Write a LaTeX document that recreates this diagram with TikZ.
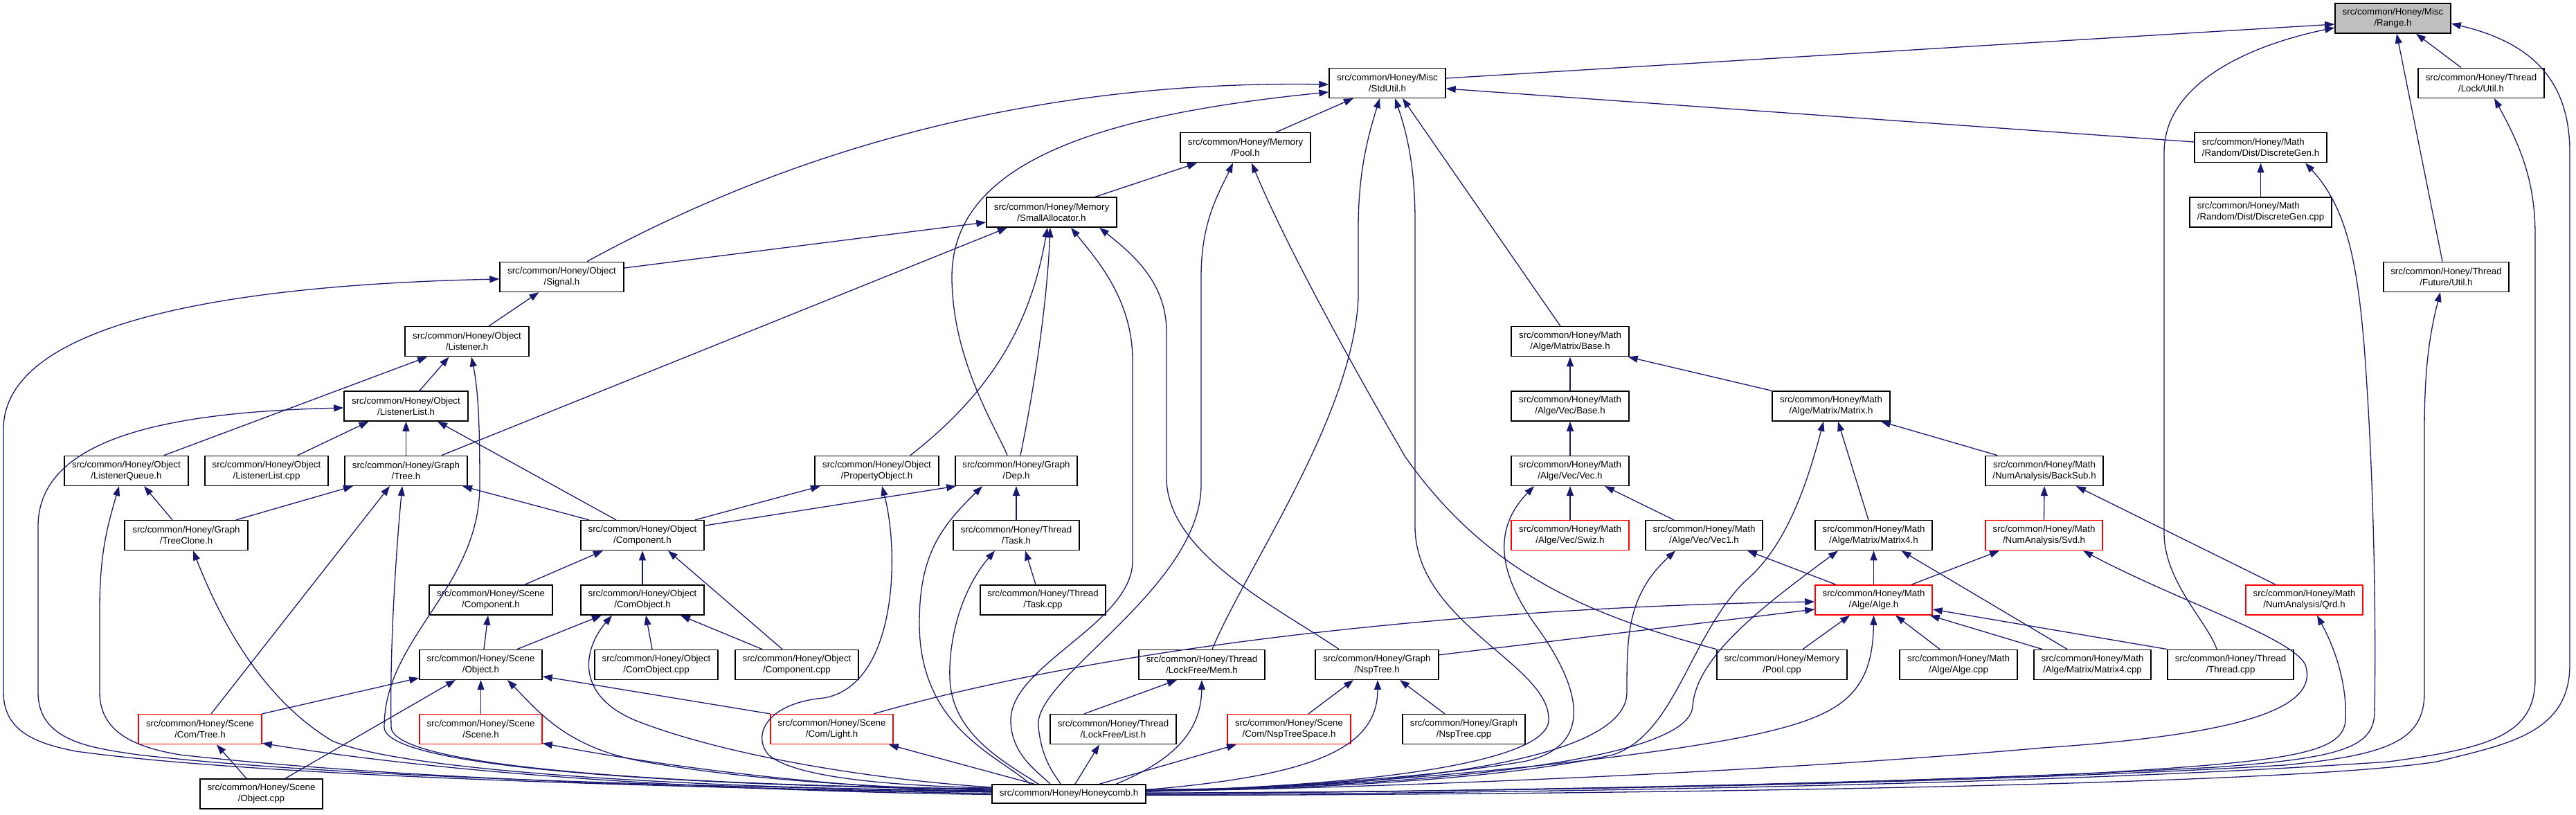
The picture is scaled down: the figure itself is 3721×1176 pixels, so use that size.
\documentclass[tikz,border=0pt]{standalone}
\usepackage{fontspec}
\setmainfont{Liberation Sans}
\usetikzlibrary{arrows.meta}
\definecolor{edgecol}{HTML}{191970}
\definecolor{rangegray}{HTML}{BFBFBF}
\definecolor{trunc}{HTML}{FF0000}
\tikzset{
 box/.style={draw=black, line width=1.5pt, fill=white, minimum height=43pt, inner sep=0pt, align=center, font=\fontsize{13.3}{16}\selectfont},
 redbox/.style={box, draw=trunc},
 e/.style={draw=edgecol, line width=1.3pt, arrows={Triangle[length=14pt,width=10pt]-}},
}
\begin{document}
\begin{tikzpicture}[x=1pt,y=-1pt]
\useasboundingbox (0,0) rectangle (3721,1176);
% nodes
\node[box,fill=rangegray,minimum width=167pt] (range) at (3456.5,26.5) {src/common/Honey/Misc\\/Range.h};
\node[box,minimum width=168pt] (stdutil) at (2004,119.8) {src/common/Honey/Misc\\/StdUtil.h};
\node[box,minimum width=182pt] (lockutil) at (3584,119.8) {src/common/Honey/Thread\\/Lock/Util.h};
\node[box,minimum width=188pt] (pool) at (1799,213.2) {src/common/Honey/Memory\\/Pool.h};
\node[box,align=left,minimum width=191pt] (discgen) at (3265.5,213.2) {src/common/Honey/Math\\/Random/Dist/DiscreteGen.h};
\node[box,minimum width=188pt] (smallalloc) at (1519,306.5) {src/common/Honey/Memory\\/SmallAllocator.h};
\node[box,align=left,minimum width=205pt] (discgencpp) at (3265.5,306.5) {src/common/Honey/Math\\/Random/Dist/DiscreteGen.cpp};
\node[box,minimum width=179pt] (signal) at (811.5,399.8) {src/common/Honey/Object\\/Signal.h};
\node[box,minimum width=181pt] (futureutil) at (3533.5,399.8) {src/common/Honey/Thread\\/Future/Util.h};
\node[box,minimum width=179pt] (listener) at (674.5,493.2) {src/common/Honey/Object\\/Listener.h};
\node[box,minimum width=170pt] (mbase) at (2268,493.2) {src/common/Honey/Math\\/Alge/Matrix/Base.h};
\node[box,minimum width=179pt] (listenerlist) at (586.5,586.5) {src/common/Honey/Object\\/ListenerList.h};
\node[box,minimum width=170pt] (vbase) at (2268,586.5) {src/common/Honey/Math\\/Alge/Vec/Base.h};
\node[box,minimum width=170pt] (matrix) at (2645,586.5) {src/common/Honey/Math\\/Alge/Matrix/Matrix.h};
\node[box,minimum width=179pt] (listenerqueue) at (182.5,679.8) {src/common/Honey/Object\\/ListenerQueue.h};
\node[box,minimum width=178pt] (listenerlistcpp) at (385,679.8) {src/common/Honey/Object\\/ListenerList.cpp};
\node[box,minimum width=177pt] (tree) at (586.5,679.8) {src/common/Honey/Graph\\/Tree.h};
\node[box,minimum width=179pt] (propobj) at (1266.5,679.8) {src/common/Honey/Object\\/PropertyObject.h};
\node[box,minimum width=176pt] (dep) at (1468,679.8) {src/common/Honey/Graph\\/Dep.h};
\node[box,minimum width=170pt] (vec) at (2268,679.8) {src/common/Honey/Math\\/Alge/Vec/Vec.h};
\node[box,minimum width=170pt] (backsub) at (2953,679.8) {src/common/Honey/Math\\/NumAnalysis/BackSub.h};
\node[box,minimum width=178pt] (treeclone) at (269,773.1) {src/common/Honey/Graph\\/TreeClone.h};
\node[box,minimum width=178pt] (component) at (928,773.1) {src/common/Honey/Object\\/Component.h};
\node[box,minimum width=182pt] (task) at (1468,773.1) {src/common/Honey/Thread\\/Task.h};
\node[redbox,minimum width=170pt] (swiz) at (2268,773.1) {src/common/Honey/Math\\/Alge/Vec/Swiz.h};
\node[box,minimum width=169pt] (vec1) at (2461.5,773.1) {src/common/Honey/Math\\/Alge/Vec/Vec1.h};
\node[box,minimum width=169pt] (matrix4) at (2706.5,773.1) {src/common/Honey/Math\\/Alge/Matrix/Matrix4.h};
\node[redbox,minimum width=169pt] (svd) at (2952.5,773.1) {src/common/Honey/Math\\/NumAnalysis/Svd.h};
\node[box,minimum width=178pt] (scenecomponent) at (709,866.5) {src/common/Honey/Scene\\/Component.h};
\node[box,minimum width=178pt] (comobject) at (928,866.5) {src/common/Honey/Object\\/ComObject.h};
\node[box,minimum width=181pt] (taskcpp) at (1506.5,866.5) {src/common/Honey/Thread\\/Task.cpp};
\node[redbox,minimum width=169pt] (alge) at (2706.5,866.5) {src/common/Honey/Math\\/Alge/Alge.h};
\node[redbox,minimum width=169pt] (qrd) at (3328.5,866.5) {src/common/Honey/Math\\/NumAnalysis/Qrd.h};
\node[box,minimum width=177pt] (sceneobject) at (694.5,959.8) {src/common/Honey/Scene\\/Object.h};
\node[box,minimum width=178pt] (comobjectcpp) at (948,959.8) {src/common/Honey/Object\\/ComObject.cpp};
\node[box,minimum width=178pt] (componentcpp) at (1151,959.8) {src/common/Honey/Object\\/Component.cpp};
\node[box,minimum width=182pt] (mem) at (1736,959.8) {src/common/Honey/Thread\\/LockFree/Mem.h};
\node[box,minimum width=178pt] (nsptree) at (1989,959.8) {src/common/Honey/Graph\\/NspTree.h};
\node[box,minimum width=188pt] (poolcpp) at (2574,959.8) {src/common/Honey/Memory\\/Pool.cpp};
\node[box,minimum width=170pt] (algecpp) at (2829,959.8) {src/common/Honey/Math\\/Alge/Alge.cpp};
\node[box,minimum width=169pt] (matrix4cpp) at (3022.5,959.8) {src/common/Honey/Math\\/Alge/Matrix/Matrix4.cpp};
\node[box,minimum width=182pt] (threadcpp) at (3222,959.8) {src/common/Honey/Thread\\/Thread.cpp};
\node[redbox,minimum width=178pt] (comtree) at (289,1053.1) {src/common/Honey/Scene\\/Com/Tree.h};
\node[redbox,minimum width=177pt] (scene) at (694.5,1053.1) {src/common/Honey/Scene\\/Scene.h};
\node[redbox,minimum width=177pt] (light) at (1201.5,1053.1) {src/common/Honey/Scene\\/Com/Light.h};
\node[box,minimum width=182pt] (list) at (1608,1053.1) {src/common/Honey/Thread\\/LockFree/List.h};
\node[redbox,minimum width=178pt] (nsptreespace) at (1862,1053.1) {src/common/Honey/Scene\\/Com/NspTreeSpace.h};
\node[box,minimum width=177pt] (nsptreecpp) at (2114.5,1053.1) {src/common/Honey/Graph\\/NspTree.cpp};
\node[box,minimum width=177pt] (objectcpp) at (377.5,1146.5) {src/common/Honey/Scene\\/Object.cpp};
\node[box,minimum width=222pt,minimum height=27pt] (honeycomb) at (1544,1146.5) {src/common/Honey/Honeycomb.h};
% Range
\draw[e] ([yshift=-8.5pt]range.west) -- ([yshift=6.8pt]stdutil.east);
\draw[e] ([yshift=-13.5pt]range.west) .. controls (3250,65) and (3126,120) .. (3126,220) -- (3126,770) .. controls (3126,840) and (3190,900) .. ([xshift=-20pt]threadcpp.north);
\draw[e] ([xshift=5.5pt]range.south) -- ([xshift=-5.5pt]futureutil.north);
\draw[e] ([xshift=33.5pt]range.south) -- ([xshift=-29pt]lockutil.north);
\draw[e] ([yshift=-7.5pt]range.east) .. controls (3650,60) and (3712,110) .. (3712,220) -- (3712,960) .. controls (3712,1060) and (3620,1075) .. (3520,1100) .. controls (3300,1135) and (2300,1148) .. ([yshift=-2pt]honeycomb.east);
% StdUtil
\draw[e] ([xshift=-49pt]stdutil.south) -- ([xshift=44pt]pool.north);
\draw[e] ([yshift=-2.2pt]stdutil.west) .. controls (1450,115) and (1100,240) .. ([xshift=36.5pt]signal.north);
\draw[e] ([yshift=-13.2pt]stdutil.west) .. controls (1600,165) and (1375,230) .. (1375,400) .. controls (1375,520) and (1440,620) .. ([xshift=-13pt]dep.north);
\draw[e] ([xshift=-11pt]stdutil.south) .. controls (1975,200) and (1962,250) .. (1962,330) -- (1962,430) .. controls (1955,600) and (1800,820) .. ([xshift=15pt]mem.north);
\draw[e] ([xshift=11pt]stdutil.south) .. controls (2035,200) and (2044,250) .. (2044,320) -- (2044,760) .. controls (2044,900) and (2240,960) .. (2237,1040) .. controls (2235,1110) and (1900,1138) .. ([yshift=4.5pt]honeycomb.east);
\draw[e] ([xshift=22pt]stdutil.south) -- ([xshift=-14pt]mbase.north);
\draw[e] ([yshift=-8.2pt]stdutil.east) -- ([yshift=8.2pt]discgen.west);
% Pool
\draw[e] ([xshift=-70pt]pool.south) -- ([xshift=63pt]smallalloc.north);
\draw[e] ([xshift=-18pt]pool.south) .. controls (1760,280) and (1735,320) .. (1735,400) -- (1735,700) .. controls (1735,850) and (1490,980) .. (1500,1050) .. controls (1505,1100) and (1525,1120) .. ([xshift=-12pt]honeycomb.north);
\draw[e] ([xshift=9pt]pool.south) .. controls (1860,360) and (1960,540) .. (2030,660) .. controls (2150,830) and (2300,890) .. (poolcpp.north west);
% SmallAllocator
\draw[e] ([yshift=-14.5pt]smallalloc.west) -- ([yshift=12.8pt]signal.east);
\draw[e] ([xshift=-64pt]smallalloc.south) -- ([xshift=51.5pt]tree.north);
\draw[e] ([xshift=-6pt]smallalloc.south) .. controls (1490,460) and (1440,560) .. ([xshift=48.5pt]propobj.north);
\draw[e] ([xshift=-2pt]smallalloc.south) .. controls (1512,450) and (1490,580) .. ([xshift=6pt]dep.north);
\draw[e] ([xshift=28pt]smallalloc.south) .. controls (1580,370) and (1636,430) .. (1636,520) -- (1636,810) .. controls (1636,900) and (1460,960) .. (1460,1040) .. controls (1460,1090) and (1500,1115) .. ([xshift=-27pt]honeycomb.north);
\draw[e] ([xshift=69pt]smallalloc.south) .. controls (1640,370) and (1685,410) .. (1685,480) -- (1685,690) .. controls (1685,800) and (1850,880) .. ([xshift=-55pt]nsptree.north);
% Signal
\draw[e] ([xshift=-33pt]signal.south) -- ([xshift=31.5pt]listener.north);
\draw[e] ([yshift=-3.2pt]signal.west) .. controls (400,410) and (5,450) .. (5,620) -- (5,1000) .. controls (5,1060) and (60,1075) .. (110,1085) .. controls (400,1125) and (1100,1140) .. ([yshift=2.5pt]honeycomb.west);
% Listener
\draw[e] ([xshift=-26pt]listener.south) -- ([xshift=19.5pt]listenerlist.north);
\draw[e] ([xshift=-57.5pt]listener.south) -- ([xshift=54.5pt]listenerqueue.north);
\draw[e] ([xshift=6.5pt]listener.south) .. controls (690,560) and (693,600) .. (693,700) .. controls (693,850) and (555,920) .. (555,1050) .. controls (555,1110) and (1000,1135) .. ([yshift=6.5pt]honeycomb.west);
% ListenerList
\draw[e] ([xshift=-54pt]listenerlist.south) -- ([xshift=45pt]listenerlistcpp.north);
\draw[e] (listenerlist.south) -- (tree.north);
\draw[e] ([xshift=45.5pt]listenerlist.south) -- ([xshift=-38pt]component.north);
\draw[e] ([yshift=-2.5pt]listenerlist.west) .. controls (250,595) and (55,630) .. (55,760) -- (55,1000) .. controls (55,1070) and (130,1080) .. (200,1090) .. controls (500,1125) and (1100,1138) .. ([yshift=4.5pt]honeycomb.west);
% ListenerQueue
\draw[e] ([xshift=25.5pt]listenerqueue.south) -- ([xshift=-20pt]treeclone.north);
\draw[e] ([xshift=-10.5pt]listenerqueue.south) .. controls (155,760) and (144,800) .. (144,880) -- (144,1000) .. controls (144,1060) and (200,1080) .. (260,1090) .. controls (600,1128) and (1100,1140) .. ([yshift=0.5pt]honeycomb.west);
% Tree
\draw[e] ([xshift=-76.5pt]tree.south) -- ([xshift=72pt]treeclone.north);
\draw[e] ([xshift=-23.5pt]tree.south) -- ([xshift=16pt]comtree.north);
\draw[e] ([xshift=-5.5pt]tree.south) .. controls (570,820) and (563,950) .. (565,1050) .. controls (567,1110) and (1000,1135) .. ([yshift=7.5pt]honeycomb.west);
\draw[e] ([xshift=81.5pt]tree.south) -- ([xshift=-77pt]component.north);
% TreeClone
\draw[e] ([xshift=10pt]treeclone.south) .. controls (320,900) and (380,1010) .. (480,1070) .. controls (600,1120) and (1100,1140) .. ([yshift=4pt]honeycomb.west);
% Component
\draw[e] ([xshift=-57pt]component.south) -- ([xshift=49pt]scenecomponent.north);
\draw[e] (component.south) -- (comobject.north);
\draw[e] ([xshift=37pt]component.south) -- ([xshift=-21pt]componentcpp.north);
\draw[e] ([xshift=-81.5pt]propobj.south) -- ([xshift=76pt]component.north);
\draw[e] ([xshift=2pt]dep.south west) -- ([yshift=14pt]component.east);
% PropertyObject
\draw[e] ([xshift=7.5pt]propobj.south) .. controls (1300,800) and (1295,990) .. (1190,1008) .. controls (1110,1015) and (1085,1060) .. (1110,1090) .. controls (1150,1125) and (1300,1135) .. ([yshift=8.5pt]honeycomb.west);
% Dep
\draw[e] (dep.south) -- (task.north);
\draw[e] ([xshift=-49pt]dep.south) .. controls (1360,760) and (1328,800) .. (1328,900) .. controls (1328,1050) and (1440,1090) .. ([xshift=-56pt]honeycomb.north);
% Task
\draw[e] ([xshift=13pt]task.south) -- ([xshift=-10.5pt]taskcpp.north);
\draw[e] ([xshift=-31pt]task.south) .. controls (1390,850) and (1370,920) .. (1372,980) .. controls (1375,1060) and (1450,1100) .. ([xshift=-44pt]honeycomb.north);
% Scene component / ComObject
\draw[e] ([xshift=-4pt]scenecomponent.south) -- ([xshift=4.5pt]sceneobject.north);
\draw[e] ([xshift=-59pt]comobject.south) -- ([xshift=52.5pt]sceneobject.north);
\draw[e] ([xshift=5pt]comobject.south) -- ([xshift=-6pt]comobjectcpp.north);
\draw[e] ([xshift=55pt]comobject.south) -- ([xshift=-50pt]componentcpp.north);
\draw[e] ([xshift=-44pt]comobject.south) .. controls (840,940) and (830,1010) .. (930,1045) .. controls (1050,1090) and (1250,1125) .. ([yshift=9.5pt]honeycomb.west);
% Scene object
\draw[e] ([yshift=3pt]sceneobject.south west) -- (comtree.north east);
\draw[e] ([xshift=-36.5pt]sceneobject.south) -- ([xshift=34.5pt]objectcpp.north);
\draw[e] (sceneobject.south) -- (scene.north);
\draw[e] ([yshift=-17pt]sceneobject.east) -- (light.north west);
\draw[e] ([xshift=38.5pt]sceneobject.south) .. controls (780,1030) and (820,1080) .. (930,1100) .. controls (1100,1130) and (1300,1138) .. ([yshift=5.5pt]honeycomb.west);
% Com tree, scene
\draw[e] ([xshift=24pt]comtree.south) -- ([xshift=-21.5pt]objectcpp.north);
\draw[e] ([yshift=2pt]comtree.south east) .. controls (700,1125) and (1100,1143) .. ([yshift=-1pt]honeycomb.west);
\draw[e] ([yshift=2pt]scene.south east) .. controls (1000,1115) and (1250,1140) .. ([yshift=3pt]honeycomb.west);
% Light
\draw[e] ([xshift=-7pt]light.south east) -- ([xshift=-50pt]honeycomb.north);
\draw[e] ([yshift=-2.5pt]alge.west) .. controls (2200,875) and (1650,920) .. ([xshift=60.5pt]light.north);
% Mem, List, NspTreeSpace
\draw[e] ([xshift=-36pt]mem.south) -- ([xshift=-42pt]list.north);
\draw[e] (mem.south) .. controls (1735,1060) and (1690,1100) .. ([xshift=68pt]honeycomb.north);
\draw[e] ([xshift=-20pt]list.south) -- ([xshift=9pt]honeycomb.north);
\draw[e] ([xshift=-76pt]nsptreespace.south) -- ([xshift=44pt]honeycomb.north);
% NspTree
\draw[e] ([xshift=-34pt]nsptree.south) -- ([xshift=28pt]nsptreespace.north);
\draw[e] ([xshift=33pt]nsptree.south) -- ([xshift=-27.5pt]nsptreecpp.north);
\draw[e] ([xshift=1pt]nsptree.south) .. controls (1990,1080) and (1900,1120) .. ([yshift=6pt]honeycomb.east);
\draw[e] ([yshift=-13.5pt]alge.west) -- ([yshift=14pt]nsptree.east);
% Math
\draw[e] (mbase.south) -- (vbase.north);
\draw[e] ([xshift=-2pt]mbase.south east) -- (matrix.north west);
\draw[e] (vbase.south) -- (vec.north);
\draw[e] (vec.south) -- (swiz.north);
\draw[e] ([xshift=50pt]vec.south) -- ([xshift=-43.5pt]vec1.north);
\draw[e] ([xshift=-52pt]vec.south) .. controls (2160,760) and (2160,820) .. (2216,900) .. controls (2290,1000) and (2300,1080) .. (2200,1100) .. controls (2050,1125) and (1800,1140) .. ([yshift=3.5pt]honeycomb.east);
\draw[e] ([xshift=10pt]matrix.south) -- ([xshift=-7.5pt]matrix4.north);
\draw[e] ([xshift=72pt]matrix.south) -- ([xshift=-68pt]backsub.north);
\draw[e] ([xshift=-11pt]matrix.south) .. controls (2610,700) and (2580,790) .. (2520,840) .. controls (2440,920) and (2420,1060) .. (2330,1090) .. controls (2150,1130) and (1850,1140) .. ([yshift=4.5pt]honeycomb.east);
\draw[e] ([xshift=62.5pt]vec1.south) -- ([xshift=-54.5pt]alge.north);
\draw[e] ([xshift=-41.5pt]vec1.south) .. controls (2350,860) and (2350,920) .. (2350,1000) .. controls (2350,1110) and (1950,1140) .. ([yshift=5.5pt]honeycomb.east);
\draw[e] (matrix4.south) -- (alge.north);
\draw[e] ([xshift=40pt]matrix4.south) -- ([xshift=-36.5pt]matrix4cpp.north);
\draw[e] ([xshift=-51.5pt]matrix4.south) .. controls (2540,880) and (2450,950) .. (2445,1020) .. controls (2440,1110) and (1950,1140) .. ([yshift=6.5pt]honeycomb.east);
\draw[e] (backsub.south) -- (svd.north);
\draw[e] ([xshift=46pt]backsub.south) -- ([xshift=-41.5pt]qrd.north);
\draw[e] ([xshift=-64.5pt]svd.south) -- ([xshift=54.5pt]alge.north);
\draw[e] ([xshift=56.5pt]svd.south) .. controls (3150,870) and (3310,920) .. (3330,960) .. controls (3350,1020) and (3250,1060) .. (2950,1080) .. controls (2500,1120) and (1900,1140) .. ([yshift=4pt]honeycomb.east);
\draw[e] ([xshift=18.5pt]qrd.south) .. controls (3380,950) and (3390,1000) .. (3388,1040) .. controls (3385,1090) and (3300,1100) .. (3000,1118) .. controls (2500,1138) and (1900,1145) .. ([yshift=0.5pt]honeycomb.east);
\draw[e] ([xshift=-34.5pt]alge.south) -- ([xshift=30pt]poolcpp.north);
\draw[e] ([xshift=31.5pt]alge.south) -- ([xshift=-27pt]algecpp.north);
\draw[e] ([xshift=-4pt]alge.south east) -- ([xshift=-72.5pt]matrix4cpp.north);
\draw[e] ([yshift=-13.5pt]alge.east) -- (threadcpp.north west);
\draw[e] (alge.south) .. controls (2705,1000) and (2660,1030) .. (2560,1055) .. controls (2400,1095) and (1950,1138) .. ([yshift=3.5pt]honeycomb.east);
% DiscreteGen, Future, Lock
\draw[e] (discgen.south) -- (discgencpp.north);
\draw[e] ([xshift=64.5pt]discgen.south) .. controls (3390,300) and (3405,380) .. (3415,500) .. controls (3430,700) and (3432,900) .. (3430,1030) .. controls (3428,1080) and (3380,1095) .. (3200,1108) .. controls (2700,1135) and (2000,1145) .. ([yshift=1pt]honeycomb.east);
\draw[e] ([xshift=-8.5pt]futureutil.south) .. controls (3510,480) and (3502,530) .. (3502,620) -- (3502,1000) .. controls (3502,1070) and (3450,1090) .. (3300,1105) .. controls (2800,1135) and (2000,1145) .. ([yshift=1.5pt]honeycomb.east);
\draw[e] ([xshift=19pt]lockutil.south) .. controls (3640,210) and (3662,260) .. (3662,340) -- (3662,980) .. controls (3662,1060) and (3600,1080) .. (3450,1100) .. controls (2900,1138) and (2000,1147) .. ([yshift=-1pt]honeycomb.east);
\end{tikzpicture}
\end{document}
